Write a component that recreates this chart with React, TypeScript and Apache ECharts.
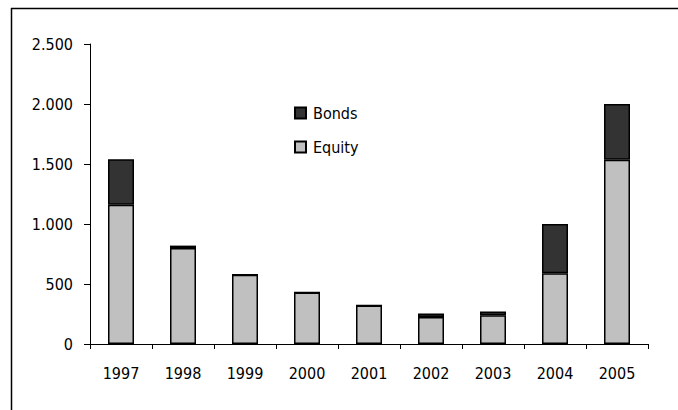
import React, { useEffect, useRef } from "react";
import * as echarts from "echarts";

const years = ["1997", "1998", "1999", "2000", "2001", "2002", "2003", "2004", "2005"];
const equity = [1160, 800, 578, 430, 320, 225, 240, 590, 1535];
const bonds = [380, 20, 0, 0, 0, 30, 30, 410, 465];
const yTicks = [0, 500, 1000, 1500, 2000, 2500];

const FONT = "'DejaVu Sans Condensed', 'Liberation Sans', sans-serif";

function fmt(v: number): string {
  return v.toLocaleString("de-DE");
}

export default function App() {
  const ref = useRef<HTMLDivElement>(null);
  useEffect(() => {
    if (!ref.current) return;
    const chart = echarts.init(ref.current, undefined, { renderer: "svg" });
    chart.setOption({
      animation: false,
      backgroundColor: "#ffffff",
      textStyle: { fontFamily: FONT },
      grid: { left: 90, top: 44, right: 30, height: 300, containLabel: false },
      legend: {
        data: ["Bonds", "Equity"],
        orient: "vertical",
        left: 289,
        top: 100,
        itemWidth: 11,
        itemHeight: 11,
        itemGap: 18,
        icon: "rect",
        textStyle: { fontFamily: FONT, fontSize: 16, color: "#000", padding: [0, 0, 0, 2] },
      },
      xAxis: {
        type: "category",
        data: years,
        axisLine: { lineStyle: { color: "#000", width: 1 } },
        axisTick: { show: true, length: 5, lineStyle: { color: "#000" } },
        axisLabel: { color: "#000", fontSize: 16, fontFamily: FONT, margin: 21 },
      },
      yAxis: {
        type: "value",
        min: yTicks[0],
        max: yTicks[yTicks.length - 1],
        interval: 500,
        splitLine: { show: false },
        axisLine: { show: true, lineStyle: { color: "#000", width: 1 } },
        axisTick: { show: true, length: 6, lineStyle: { color: "#000" } },
        axisLabel: {
          color: "#000",
          fontSize: 16,
          fontFamily: FONT,
          margin: 17,
          formatter: (v: number) => fmt(v),
        },
      },
      series: [
        {
          name: "Equity",
          type: "bar",
          stack: "total",
          data: equity,
          barWidth: 26,
          itemStyle: { color: "#c0c0c0", borderColor: "#000", borderWidth: 1.5 },
        },
        {
          name: "Bonds",
          type: "bar",
          stack: "total",
          data: bonds,
          barWidth: 26,
          itemStyle: { color: "#333333", borderColor: "#000", borderWidth: 1.5 },
        },
      ],
      graphic: [
        {
          type: "line",
          shape: { x1: 11, y1: 8.5, x2: 678, y2: 8.5 },
          style: { stroke: "#000", lineWidth: 1.5 },
          silent: true,
        },
        {
          type: "line",
          shape: { x1: 11.5, y1: 8, x2: 11.5, y2: 410 },
          style: { stroke: "#000", lineWidth: 1.5 },
          silent: true,
        },
      ],
    });
    return () => chart.dispose();
  }, []);
  return (
    <div
      ref={ref}
      style={{ position: "fixed", left: 0, top: 0, width: 678, height: 410 }}
    />
  );
}
